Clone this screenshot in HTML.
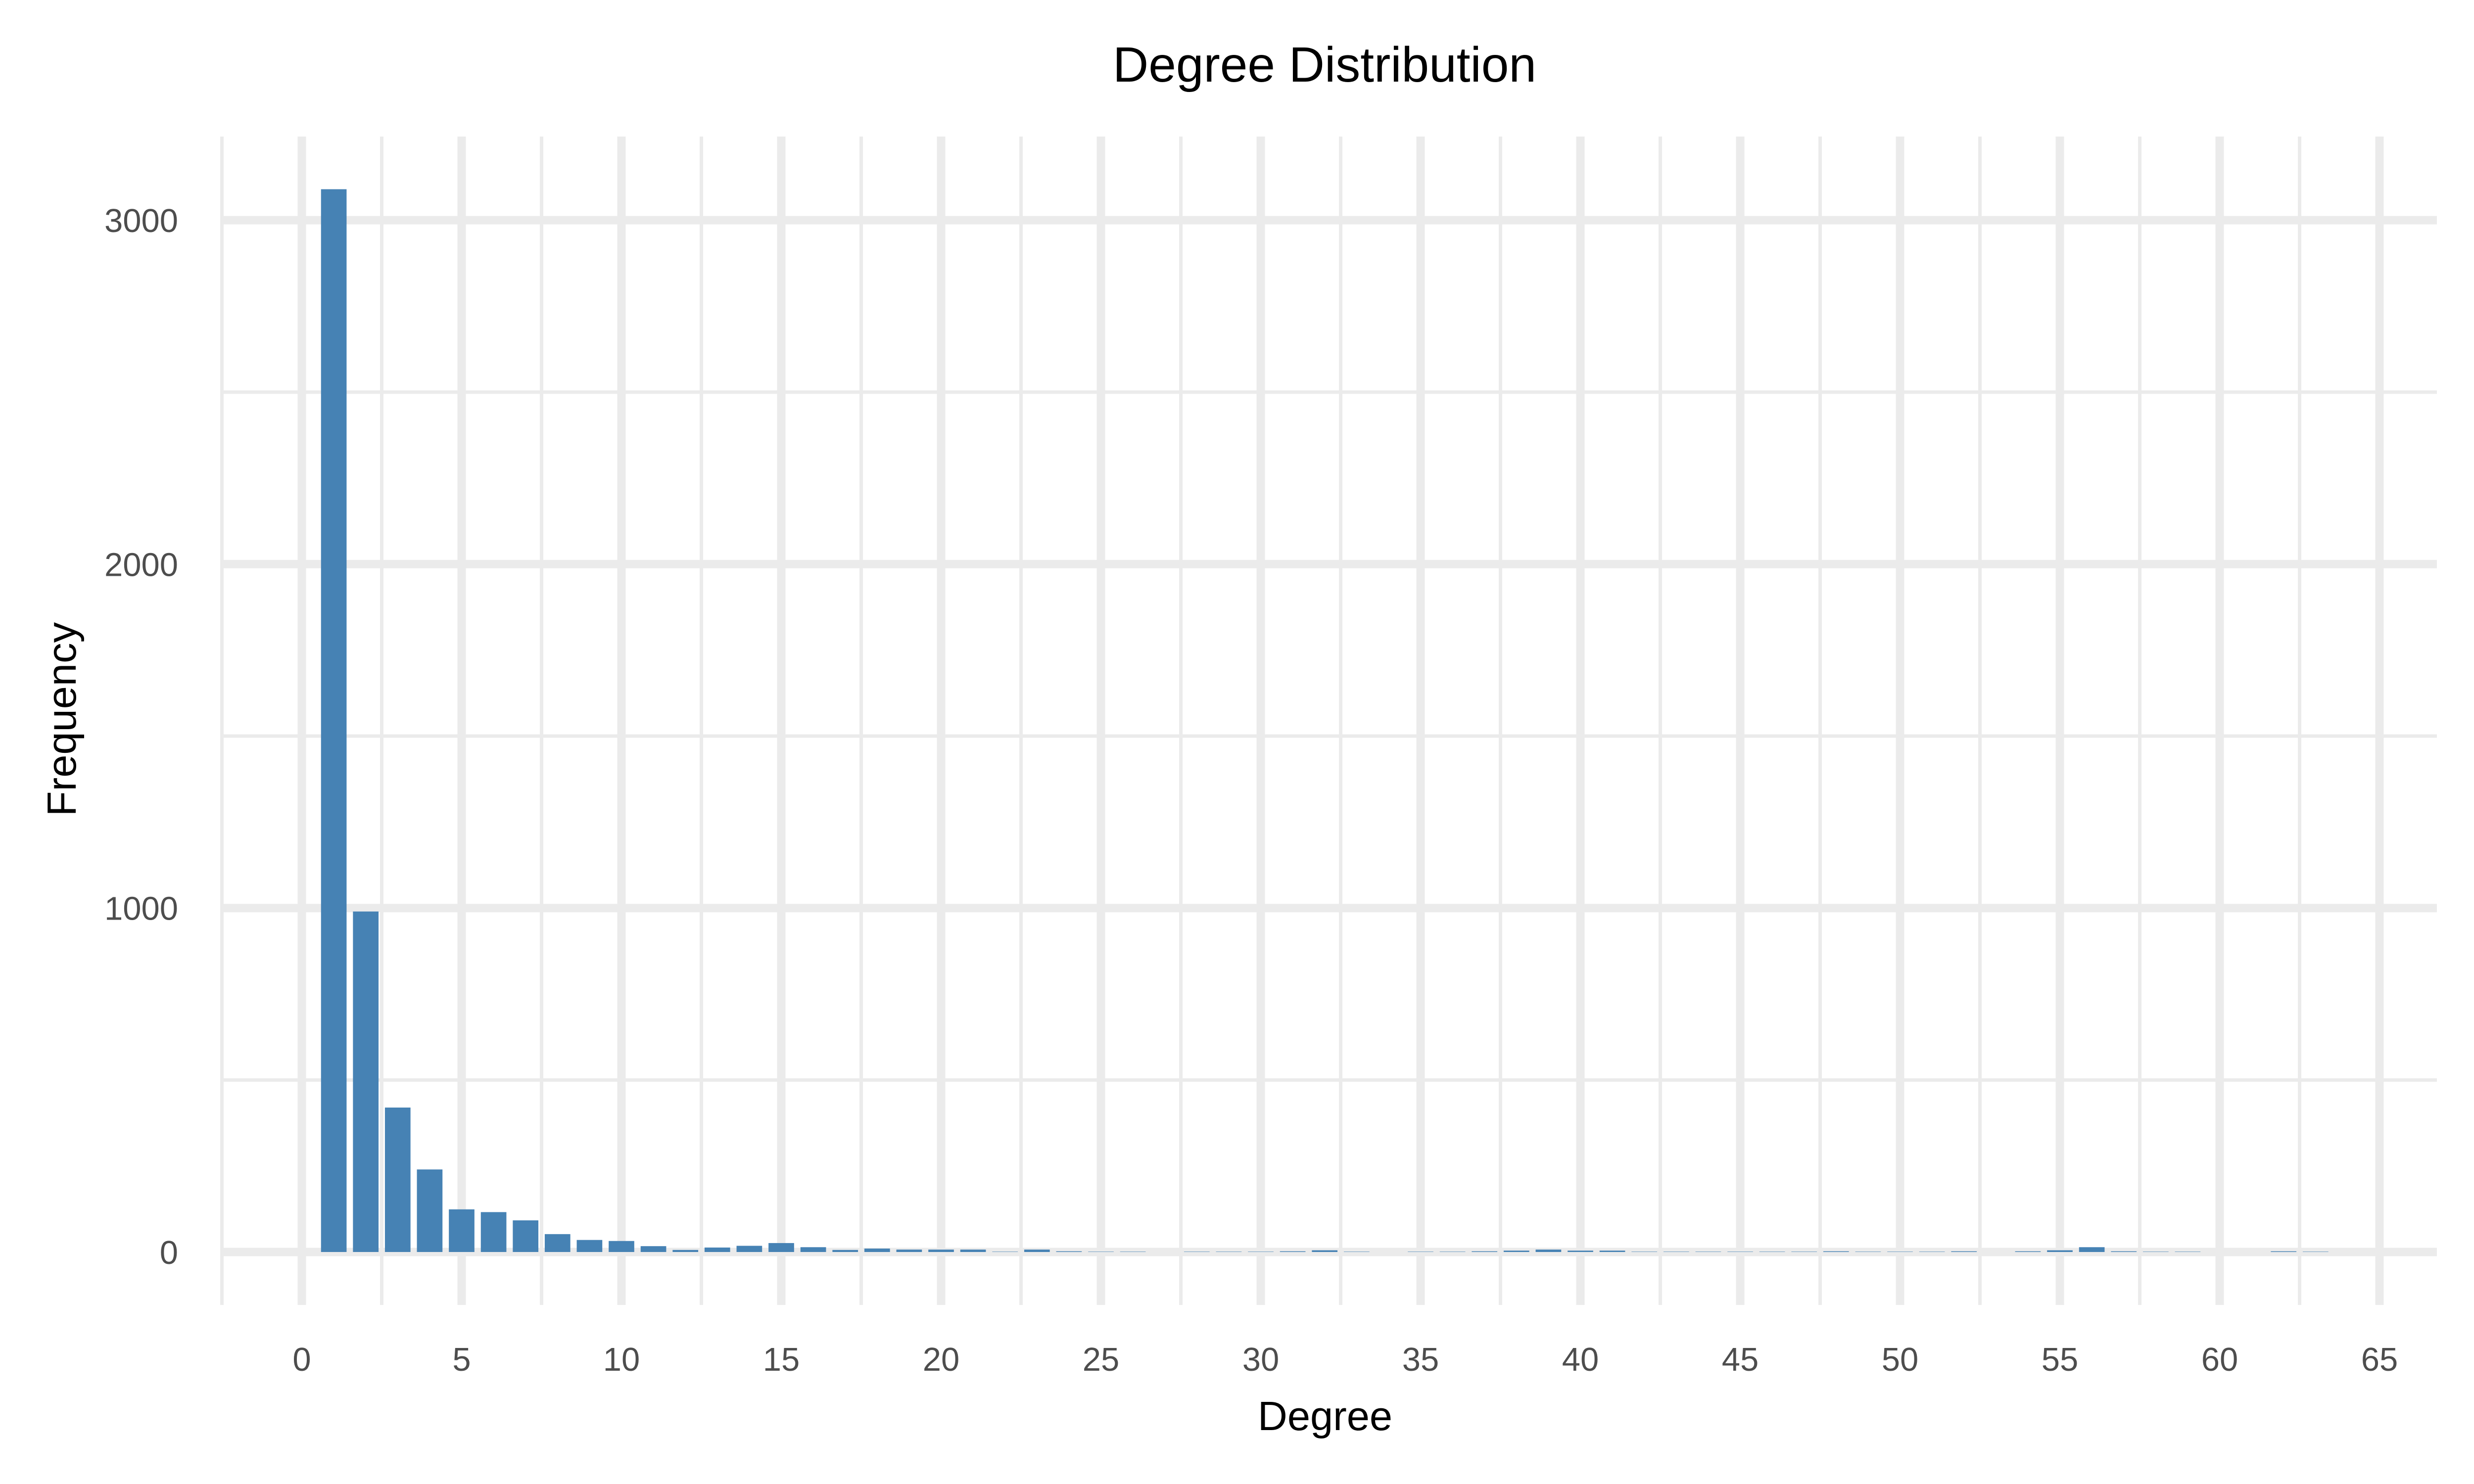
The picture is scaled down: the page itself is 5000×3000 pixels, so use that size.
<!DOCTYPE html>
<html><head><meta charset="utf-8"><style>
html,body{margin:0;padding:0;background:#fff;}
svg{display:block;font-family:"Liberation Sans",Arial,sans-serif;}
</style></head><body>
<svg id="chart" width="5000" height="3000" viewBox="0 0 5000 3000" xmlns="http://www.w3.org/2000/svg">
<rect width="5000" height="3000" fill="#fff"/>
<g id="grid"></g>
<g id="bars"></g>
<g id="ticks"></g>
<text x="2677" y="165" font-size="100" text-anchor="middle" fill="#000">Degree Distribution</text>
<text x="2678" y="2891" font-size="83" text-anchor="middle" fill="#000">Degree</text>
<text transform="translate(153,1454) rotate(-90)" font-size="83" text-anchor="middle" fill="#000">Frequency</text>
</svg>
<script>
const degrees = [1,2,3,4,5,6,7,8,9,10,11,12,13,14,15,16,17,18,19,20,21,22,23,24,25,26,28,29,30,31,32,33,35,36,37,38,39,40,41,42,43,44,45,46,47,48,49,50,51,52,54,55,56,57,58,59,62,63];
const counts = [3090,990,420,240,124,116,92,52,35,32,17,6,13,18,26,14,6,10,7,7,7,1,7,2,1,1,1,1,1,2,5,1,1,1,2,4,7,4,4,1,1,1,1,1,1,2,1,1,1,2,2,5,14,2,1,1,2,1];
const xTicks = [0,5,10,15,20,25,30,35,40,45,50,55,60,65];
const yTicks = [0,1000,2000,3000];
const yMinor = [500,1500,2500];
const xMinor = [-2.5,2.5,7.5,12.5,17.5,22.5,27.5,32.5,37.5,42.5,47.5,52.5,57.5,62.5];

const NS = "http://www.w3.org/2000/svg";
const P = {l:446, r:4925, t:276, b:2638};
const xs = v => 610 + v * 64.6;
const ys = v => 2531 - v * 0.6953;
const grid = document.getElementById('grid');
const barsG = document.getElementById('bars');
const ticksG = document.getElementById('ticks');
function mk(tag, attrs, parent){const e=document.createElementNS(NS,tag);for(const k in attrs)e.setAttribute(k,attrs[k]);parent.appendChild(e);return e;}

yMinor.forEach(v=>{const e=mk('line',{x1:P.l,x2:P.r,y1:ys(v),y2:ys(v),stroke:'#EBEBEB','stroke-width':7},grid);

});
xMinor.forEach(v=>{const e=mk('line',{x1:xs(v),x2:xs(v),y1:P.t,y2:P.b,stroke:'#EBEBEB','stroke-width':7},grid);

});
yTicks.forEach(v=>{const e=mk('line',{x1:P.l,x2:P.r,y1:ys(v),y2:ys(v),stroke:'#EBEBEB','stroke-width':17},grid);


const t=mk('text',{x:360,y:ys(v)+24,'font-size':67,'text-anchor':'end',fill:'#4D4D4D'},ticksG);t.textContent=v;

});
xTicks.forEach(v=>{const e=mk('line',{x1:xs(v),x2:xs(v),y1:P.t,y2:P.b,stroke:'#EBEBEB','stroke-width':17},grid);


const t=mk('text',{x:xs(v),y:2771,'font-size':67,'text-anchor':'middle',fill:'#4D4D4D'},ticksG);t.textContent=v;

});
degrees.forEach((d,i)=>{const w=0.8*64.6;const y=ys(counts[i]);
const b=mk('rect',{x:xs(d)-w/2,y:y,width:w,height:Math.max(ys(0)-y,0),fill:'#4682B4'},barsG);

});
</script>
</body></html>
